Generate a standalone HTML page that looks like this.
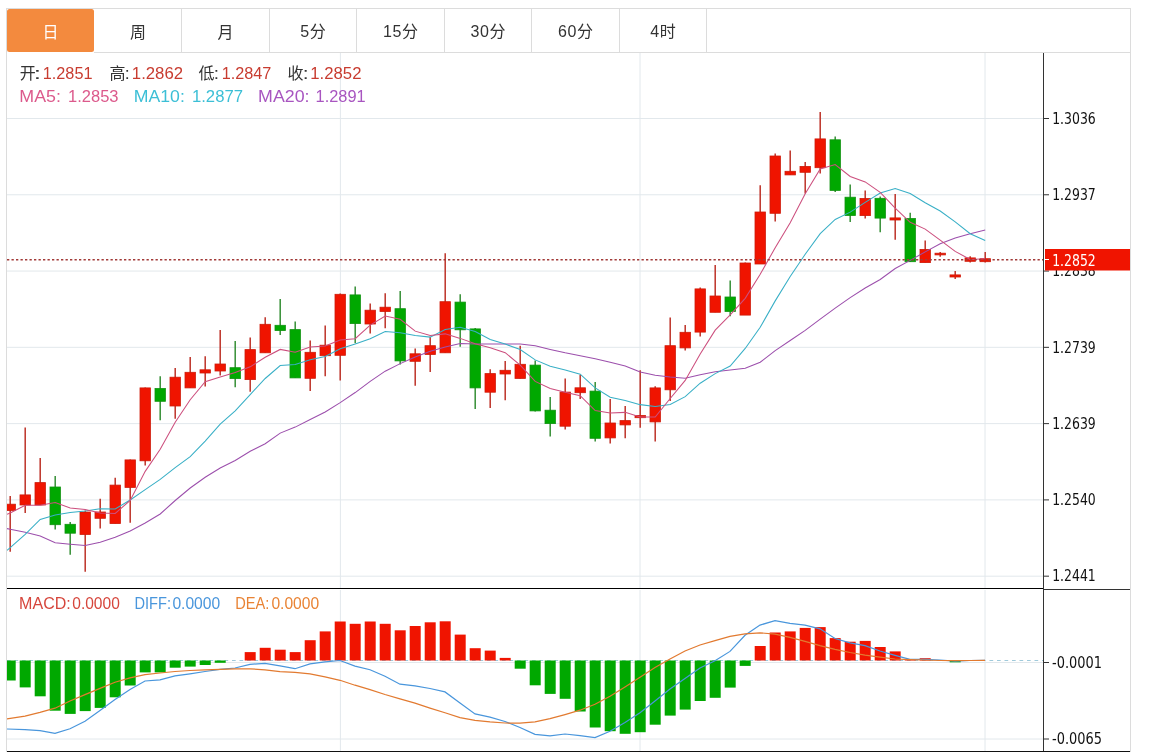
<!DOCTYPE html>
<html><head><meta charset="utf-8"><title>K线图</title>
<style>
html,body{margin:0;padding:0;background:#fff;}
body{width:1150px;height:752px;overflow:hidden;position:relative;}
svg{position:absolute;left:0;top:0;display:block;will-change:transform;}
</style></head>
<body>
<svg width="1150" height="752" viewBox="0 0 1150 752">
<defs>
<clipPath id="cm"><rect x="7" y="53" width="1036" height="535"/></clipPath>
<clipPath id="cd"><rect x="7" y="590" width="1036" height="161"/></clipPath>
</defs>
<rect x="0" y="0" width="1150" height="752" fill="#fff"/>
<line x1="7" y1="118.50" x2="1043" y2="118.50" stroke="#e2e8ec" stroke-width="1"/>
<line x1="7" y1="194.78" x2="1043" y2="194.78" stroke="#e2e8ec" stroke-width="1"/>
<line x1="7" y1="271.06" x2="1043" y2="271.06" stroke="#e2e8ec" stroke-width="1"/>
<line x1="7" y1="347.34" x2="1043" y2="347.34" stroke="#e2e8ec" stroke-width="1"/>
<line x1="7" y1="423.62" x2="1043" y2="423.62" stroke="#e2e8ec" stroke-width="1"/>
<line x1="7" y1="499.90" x2="1043" y2="499.90" stroke="#e2e8ec" stroke-width="1"/>
<line x1="7" y1="576.18" x2="1043" y2="576.18" stroke="#e2e8ec" stroke-width="1"/>
<line x1="340.4" y1="53" x2="340.4" y2="588" stroke="#e2e8ec" stroke-width="1"/>
<line x1="340.4" y1="590" x2="340.4" y2="751" stroke="#e2e8ec" stroke-width="1"/>
<line x1="640.0" y1="53" x2="640.0" y2="588" stroke="#e2e8ec" stroke-width="1"/>
<line x1="640.0" y1="590" x2="640.0" y2="751" stroke="#e2e8ec" stroke-width="1"/>
<line x1="985.0" y1="53" x2="985.0" y2="588" stroke="#e2e8ec" stroke-width="1"/>
<line x1="985.0" y1="590" x2="985.0" y2="751" stroke="#e2e8ec" stroke-width="1"/>
<line x1="7" y1="662.5" x2="1043" y2="662.5" stroke="#e2e8ec" stroke-width="1"/>
<line x1="7" y1="739.0" x2="1043" y2="739.0" stroke="#e2e8ec" stroke-width="1"/>
<g clip-path="url(#cm)">
<line x1="10.2" y1="496" x2="10.2" y2="551.7" stroke="#bd3228" stroke-width="1.5"/>
<rect x="5" y="504.2" width="10.4" height="6.3" fill="#f01400" stroke="#cf1a08" stroke-width="0.8"/>
<line x1="25.2" y1="427.4" x2="25.2" y2="513" stroke="#bd3228" stroke-width="1.5"/>
<rect x="20" y="494.9" width="10.4" height="10.1" fill="#f01400" stroke="#cf1a08" stroke-width="0.8"/>
<line x1="40.2" y1="457.9" x2="40.2" y2="505" stroke="#bd3228" stroke-width="1.5"/>
<rect x="35" y="482.6" width="10.4" height="22.4" fill="#f01400" stroke="#cf1a08" stroke-width="0.8"/>
<line x1="55.2" y1="476" x2="55.2" y2="529.6" stroke="#358f35" stroke-width="1.5"/>
<rect x="50" y="487" width="10.4" height="37.7" fill="#00a800" stroke="#0f930f" stroke-width="0.8"/>
<line x1="70.2" y1="522" x2="70.2" y2="554.7" stroke="#358f35" stroke-width="1.5"/>
<rect x="65" y="524.3" width="10.4" height="8.9" fill="#00a800" stroke="#0f930f" stroke-width="0.8"/>
<line x1="85.2" y1="510.4" x2="85.2" y2="571.7" stroke="#bd3228" stroke-width="1.5"/>
<rect x="80" y="512" width="10.4" height="22.5" fill="#f01400" stroke="#cf1a08" stroke-width="0.8"/>
<line x1="100.2" y1="498.7" x2="100.2" y2="528.5" stroke="#bd3228" stroke-width="1.5"/>
<rect x="95" y="512" width="10.4" height="6.3" fill="#f01400" stroke="#cf1a08" stroke-width="0.8"/>
<line x1="115.2" y1="477.7" x2="115.2" y2="523.6" stroke="#bd3228" stroke-width="1.5"/>
<rect x="110" y="485.1" width="10.4" height="38.5" fill="#f01400" stroke="#cf1a08" stroke-width="0.8"/>
<line x1="130.2" y1="459.5" x2="130.2" y2="522.7" stroke="#bd3228" stroke-width="1.5"/>
<rect x="125" y="459.9" width="10.4" height="27.5" fill="#f01400" stroke="#cf1a08" stroke-width="0.8"/>
<line x1="145.2" y1="387.5" x2="145.2" y2="465.6" stroke="#bd3228" stroke-width="1.5"/>
<rect x="140" y="387.9" width="10.4" height="72.9" fill="#f01400" stroke="#cf1a08" stroke-width="0.8"/>
<line x1="160.2" y1="376.2" x2="160.2" y2="420.2" stroke="#358f35" stroke-width="1.5"/>
<rect x="155" y="388.5" width="10.4" height="12.8" fill="#00a800" stroke="#0f930f" stroke-width="0.8"/>
<line x1="175.2" y1="368.1" x2="175.2" y2="418.7" stroke="#bd3228" stroke-width="1.5"/>
<rect x="170" y="377.2" width="10.4" height="28.8" fill="#f01400" stroke="#cf1a08" stroke-width="0.8"/>
<line x1="190.2" y1="357" x2="190.2" y2="387.9" stroke="#bd3228" stroke-width="1.5"/>
<rect x="185" y="372.3" width="10.4" height="15.6" fill="#f01400" stroke="#cf1a08" stroke-width="0.8"/>
<line x1="205.2" y1="356.3" x2="205.2" y2="386.4" stroke="#bd3228" stroke-width="1.5"/>
<rect x="200" y="369.8" width="10.4" height="3.2" fill="#f01400" stroke="#cf1a08" stroke-width="0.8"/>
<line x1="220.2" y1="330" x2="220.2" y2="375.5" stroke="#bd3228" stroke-width="1.5"/>
<rect x="215" y="364" width="10.4" height="7" fill="#f01400" stroke="#cf1a08" stroke-width="0.8"/>
<line x1="235.2" y1="341" x2="235.2" y2="387.3" stroke="#358f35" stroke-width="1.5"/>
<rect x="230" y="367.7" width="10.4" height="10.9" fill="#00a800" stroke="#0f930f" stroke-width="0.8"/>
<line x1="250.2" y1="337.4" x2="250.2" y2="391.7" stroke="#bd3228" stroke-width="1.5"/>
<rect x="245" y="349.6" width="10.4" height="30" fill="#f01400" stroke="#cf1a08" stroke-width="0.8"/>
<line x1="265.2" y1="317.2" x2="265.2" y2="352.8" stroke="#bd3228" stroke-width="1.5"/>
<rect x="260" y="324.3" width="10.4" height="28.5" fill="#f01400" stroke="#cf1a08" stroke-width="0.8"/>
<line x1="280.2" y1="299.1" x2="280.2" y2="334.9" stroke="#358f35" stroke-width="1.5"/>
<rect x="275" y="325.3" width="10.4" height="5.3" fill="#00a800" stroke="#0f930f" stroke-width="0.8"/>
<line x1="295.2" y1="321.5" x2="295.2" y2="377.9" stroke="#358f35" stroke-width="1.5"/>
<rect x="290" y="329.6" width="10.4" height="48.3" fill="#00a800" stroke="#0f930f" stroke-width="0.8"/>
<line x1="310.2" y1="340.6" x2="310.2" y2="391" stroke="#bd3228" stroke-width="1.5"/>
<rect x="305" y="352.3" width="10.4" height="26" fill="#f01400" stroke="#cf1a08" stroke-width="0.8"/>
<line x1="325.2" y1="325.6" x2="325.2" y2="376.2" stroke="#bd3228" stroke-width="1.5"/>
<rect x="320" y="345.2" width="10.4" height="10.5" fill="#f01400" stroke="#cf1a08" stroke-width="0.8"/>
<line x1="340.2" y1="293.6" x2="340.2" y2="380.4" stroke="#bd3228" stroke-width="1.5"/>
<rect x="335" y="294.3" width="10.4" height="61" fill="#f01400" stroke="#cf1a08" stroke-width="0.8"/>
<line x1="355.2" y1="286.4" x2="355.2" y2="343.2" stroke="#358f35" stroke-width="1.5"/>
<rect x="350" y="294.9" width="10.4" height="28.7" fill="#00a800" stroke="#0f930f" stroke-width="0.8"/>
<line x1="370.2" y1="303.4" x2="370.2" y2="333.6" stroke="#bd3228" stroke-width="1.5"/>
<rect x="365" y="310.2" width="10.4" height="13.8" fill="#f01400" stroke="#cf1a08" stroke-width="0.8"/>
<line x1="385.2" y1="293.2" x2="385.2" y2="328.3" stroke="#bd3228" stroke-width="1.5"/>
<rect x="380" y="307.2" width="10.4" height="4.3" fill="#f01400" stroke="#cf1a08" stroke-width="0.8"/>
<line x1="400.2" y1="291" x2="400.2" y2="364.5" stroke="#358f35" stroke-width="1.5"/>
<rect x="395" y="308.7" width="10.4" height="52.2" fill="#00a800" stroke="#0f930f" stroke-width="0.8"/>
<line x1="415.2" y1="348.5" x2="415.2" y2="385.7" stroke="#bd3228" stroke-width="1.5"/>
<rect x="410" y="353.8" width="10.4" height="7.5" fill="#f01400" stroke="#cf1a08" stroke-width="0.8"/>
<line x1="430.2" y1="336.8" x2="430.2" y2="371.9" stroke="#bd3228" stroke-width="1.5"/>
<rect x="425" y="345.7" width="10.4" height="8.8" fill="#f01400" stroke="#cf1a08" stroke-width="0.8"/>
<line x1="445.2" y1="253.2" x2="445.2" y2="352.8" stroke="#bd3228" stroke-width="1.5"/>
<rect x="440" y="301.7" width="10.4" height="51.1" fill="#f01400" stroke="#cf1a08" stroke-width="0.8"/>
<line x1="460.2" y1="294.3" x2="460.2" y2="346.8" stroke="#358f35" stroke-width="1.5"/>
<rect x="455" y="302.1" width="10.4" height="27.7" fill="#00a800" stroke="#0f930f" stroke-width="0.8"/>
<line x1="475.2" y1="327.9" x2="475.2" y2="409.1" stroke="#358f35" stroke-width="1.5"/>
<rect x="470" y="328.9" width="10.4" height="59" fill="#00a800" stroke="#0f930f" stroke-width="0.8"/>
<line x1="490.2" y1="369.2" x2="490.2" y2="408.1" stroke="#bd3228" stroke-width="1.5"/>
<rect x="485" y="373.6" width="10.4" height="18.6" fill="#f01400" stroke="#cf1a08" stroke-width="0.8"/>
<line x1="505.2" y1="360.9" x2="505.2" y2="400.2" stroke="#bd3228" stroke-width="1.5"/>
<rect x="500" y="370.3" width="10.4" height="3.7" fill="#f01400" stroke="#cf1a08" stroke-width="0.8"/>
<line x1="520.2" y1="345.8" x2="520.2" y2="378.4" stroke="#bd3228" stroke-width="1.5"/>
<rect x="515" y="364.3" width="10.4" height="14.1" fill="#f01400" stroke="#cf1a08" stroke-width="0.8"/>
<line x1="535.2" y1="360.5" x2="535.2" y2="411.5" stroke="#358f35" stroke-width="1.5"/>
<rect x="530" y="365.1" width="10.4" height="45.8" fill="#00a800" stroke="#0f930f" stroke-width="0.8"/>
<line x1="550.2" y1="397" x2="550.2" y2="436.4" stroke="#358f35" stroke-width="1.5"/>
<rect x="545" y="410.2" width="10.4" height="13.4" fill="#00a800" stroke="#0f930f" stroke-width="0.8"/>
<line x1="565.2" y1="378.5" x2="565.2" y2="429.6" stroke="#bd3228" stroke-width="1.5"/>
<rect x="560" y="392.1" width="10.4" height="34.1" fill="#f01400" stroke="#cf1a08" stroke-width="0.8"/>
<line x1="580.2" y1="374.7" x2="580.2" y2="399.1" stroke="#bd3228" stroke-width="1.5"/>
<rect x="575" y="387.8" width="10.4" height="4.9" fill="#f01400" stroke="#cf1a08" stroke-width="0.8"/>
<line x1="595.2" y1="381.9" x2="595.2" y2="441.5" stroke="#358f35" stroke-width="1.5"/>
<rect x="590" y="391.1" width="10.4" height="47.2" fill="#00a800" stroke="#0f930f" stroke-width="0.8"/>
<line x1="610.2" y1="398.9" x2="610.2" y2="443.6" stroke="#bd3228" stroke-width="1.5"/>
<rect x="605" y="423" width="10.4" height="14.9" fill="#f01400" stroke="#cf1a08" stroke-width="0.8"/>
<line x1="625.2" y1="406" x2="625.2" y2="438.3" stroke="#bd3228" stroke-width="1.5"/>
<rect x="620" y="420.6" width="10.4" height="4.3" fill="#f01400" stroke="#cf1a08" stroke-width="0.8"/>
<line x1="640.2" y1="370.2" x2="640.2" y2="427.7" stroke="#bd3228" stroke-width="1.5"/>
<rect x="635" y="415.5" width="10.4" height="2.2" fill="#f01400" stroke="#cf1a08" stroke-width="0.8"/>
<line x1="655.2" y1="386.2" x2="655.2" y2="441.5" stroke="#bd3228" stroke-width="1.5"/>
<rect x="650" y="387.9" width="10.4" height="34" fill="#f01400" stroke="#cf1a08" stroke-width="0.8"/>
<line x1="670.2" y1="317.4" x2="670.2" y2="401" stroke="#bd3228" stroke-width="1.5"/>
<rect x="665" y="345.7" width="10.4" height="44.1" fill="#f01400" stroke="#cf1a08" stroke-width="0.8"/>
<line x1="685.2" y1="325.1" x2="685.2" y2="350.6" stroke="#bd3228" stroke-width="1.5"/>
<rect x="680" y="332.3" width="10.4" height="15.6" fill="#f01400" stroke="#cf1a08" stroke-width="0.8"/>
<line x1="700.2" y1="287.4" x2="700.2" y2="336.4" stroke="#bd3228" stroke-width="1.5"/>
<rect x="695" y="288.9" width="10.4" height="43.2" fill="#f01400" stroke="#cf1a08" stroke-width="0.8"/>
<line x1="715.2" y1="265.1" x2="715.2" y2="312.3" stroke="#bd3228" stroke-width="1.5"/>
<rect x="710" y="296" width="10.4" height="16.3" fill="#f01400" stroke="#cf1a08" stroke-width="0.8"/>
<line x1="730.2" y1="280.6" x2="730.2" y2="316.2" stroke="#358f35" stroke-width="1.5"/>
<rect x="725" y="297" width="10.4" height="14.5" fill="#00a800" stroke="#0f930f" stroke-width="0.8"/>
<line x1="745.2" y1="262.6" x2="745.2" y2="315.1" stroke="#bd3228" stroke-width="1.5"/>
<rect x="740" y="263" width="10.4" height="52.1" fill="#f01400" stroke="#cf1a08" stroke-width="0.8"/>
<line x1="760.2" y1="185.2" x2="760.2" y2="264" stroke="#bd3228" stroke-width="1.5"/>
<rect x="755" y="212" width="10.4" height="52" fill="#f01400" stroke="#cf1a08" stroke-width="0.8"/>
<line x1="775.2" y1="153.6" x2="775.2" y2="221.4" stroke="#bd3228" stroke-width="1.5"/>
<rect x="770" y="156" width="10.4" height="57.3" fill="#f01400" stroke="#cf1a08" stroke-width="0.8"/>
<line x1="790.2" y1="150.4" x2="790.2" y2="174.9" stroke="#bd3228" stroke-width="1.5"/>
<rect x="785" y="171.3" width="10.4" height="3.6" fill="#f01400" stroke="#cf1a08" stroke-width="0.8"/>
<line x1="805.2" y1="162.1" x2="805.2" y2="193.6" stroke="#bd3228" stroke-width="1.5"/>
<rect x="800" y="166.4" width="10.4" height="5.9" fill="#f01400" stroke="#cf1a08" stroke-width="0.8"/>
<line x1="820.2" y1="112.1" x2="820.2" y2="173.4" stroke="#bd3228" stroke-width="1.5"/>
<rect x="815" y="138.9" width="10.4" height="28.8" fill="#f01400" stroke="#cf1a08" stroke-width="0.8"/>
<line x1="835.2" y1="136.6" x2="835.2" y2="191.9" stroke="#358f35" stroke-width="1.5"/>
<rect x="830" y="139.8" width="10.4" height="50.6" fill="#00a800" stroke="#0f930f" stroke-width="0.8"/>
<line x1="850.2" y1="184.5" x2="850.2" y2="221.9" stroke="#358f35" stroke-width="1.5"/>
<rect x="845" y="197.2" width="10.4" height="18.3" fill="#00a800" stroke="#0f930f" stroke-width="0.8"/>
<line x1="865.2" y1="190.4" x2="865.2" y2="218.6" stroke="#bd3228" stroke-width="1.5"/>
<rect x="860" y="198.5" width="10.4" height="17.1" fill="#f01400" stroke="#cf1a08" stroke-width="0.8"/>
<line x1="880.2" y1="196.6" x2="880.2" y2="232.3" stroke="#358f35" stroke-width="1.5"/>
<rect x="875" y="198.3" width="10.4" height="19.8" fill="#00a800" stroke="#0f930f" stroke-width="0.8"/>
<line x1="895.2" y1="194" x2="895.2" y2="239.8" stroke="#bd3228" stroke-width="1.5"/>
<rect x="890" y="217.9" width="10.4" height="2.1" fill="#f01400" stroke="#cf1a08" stroke-width="0.8"/>
<line x1="910.2" y1="212.8" x2="910.2" y2="261.7" stroke="#358f35" stroke-width="1.5"/>
<rect x="905" y="218.5" width="10.4" height="43.2" fill="#00a800" stroke="#0f930f" stroke-width="0.8"/>
<line x1="925.2" y1="240.4" x2="925.2" y2="262.6" stroke="#bd3228" stroke-width="1.5"/>
<rect x="920" y="249.4" width="10.4" height="13.2" fill="#f01400" stroke="#cf1a08" stroke-width="0.8"/>
<line x1="940.2" y1="251.9" x2="940.2" y2="256.8" stroke="#bd3228" stroke-width="1.5"/>
<rect x="935" y="253.2" width="10.4" height="1.7" fill="#f01400" stroke="#cf1a08" stroke-width="0.8"/>
<line x1="955.2" y1="271.1" x2="955.2" y2="279.1" stroke="#bd3228" stroke-width="1.5"/>
<rect x="950" y="274.9" width="10.4" height="2.1" fill="#f01400" stroke="#cf1a08" stroke-width="0.8"/>
<line x1="970.2" y1="256.2" x2="970.2" y2="262.6" stroke="#bd3228" stroke-width="1.5"/>
<rect x="965" y="257.9" width="10.4" height="3.4" fill="#f01400" stroke="#cf1a08" stroke-width="0.8"/>
<line x1="985.2" y1="251.9" x2="985.2" y2="262.6" stroke="#bd3228" stroke-width="1.5"/>
<rect x="980" y="258.7" width="10.4" height="3" fill="#f01400" stroke="#cf1a08" stroke-width="0.8"/>
<polyline fill="none" stroke="#9c4fac" stroke-width="1.05" points="7,528.6 10.2,529.3 25.2,532.2 40.2,536.1 55.2,542.7 70.2,544.2 85.2,545.4 100.2,542.2 115.2,537.3 130.2,531 145.2,523 160.2,514 175.2,500.5 190.2,488 205.2,477.3 220.2,468 235.2,460.5 250.2,451.2 265.2,443.8 280.2,433.1 295.2,427.11 310.2,419.51 325.2,412.02 340.2,402.61 355.2,392.56 370.2,381.41 385.2,371.17 400.2,363.61 415.2,357.04 430.2,351.33 445.2,347.02 460.2,343.45 475.2,343.99 490.2,344.05 505.2,344.07 520.2,344.09 535.2,345.71 550.2,349.41 565.2,352.79 580.2,355.66 595.2,358.68 610.2,362.21 625.2,365.98 640.2,372.04 655.2,375.25 670.2,377.03 685.2,378.28 700.2,374.69 715.2,371.79 730.2,370.08 745.2,368.15 760.2,362.26 775.2,350.67 790.2,340.55 805.2,330.36 820.2,319.08 835.2,308.06 850.2,297.66 865.2,287.98 880.2,279.49 895.2,268.47 910.2,260.41 925.2,251.84 940.2,243.73 955.2,238.08 970.2,233.69 985.2,230.01"/>
<polyline fill="none" stroke="#38afc6" stroke-width="1.05" points="7,550.4 10.2,547.7 25.2,534.3 40.2,519.4 55.2,514.9 70.2,512.4 85.2,510.9 100.2,508.7 115.2,508.9 130.2,500 145.2,489.65 160.2,479.36 175.2,467.59 190.2,456.56 205.2,441.07 220.2,424.15 235.2,410.81 250.2,394.57 265.2,378.49 280.2,365.56 295.2,364.56 310.2,359.66 325.2,356.46 340.2,348.66 355.2,344.04 370.2,338.66 385.2,331.52 400.2,332.65 415.2,335.6 430.2,337.11 445.2,329.49 460.2,327.24 475.2,331.51 490.2,339.44 505.2,344.11 520.2,349.52 535.2,359.89 550.2,366.16 565.2,369.99 580.2,374.2 595.2,387.86 610.2,397.18 625.2,400.45 640.2,404.64 655.2,406.4 670.2,404.54 685.2,396.68 700.2,383.21 715.2,373.6 730.2,365.97 745.2,348.44 760.2,327.34 775.2,300.88 790.2,276.46 805.2,254.31 820.2,233.63 835.2,219.44 850.2,212.1 865.2,202.35 880.2,193.01 895.2,188.5 910.2,193.47 925.2,202.81 940.2,211 955.2,221.85 970.2,233.75 985.2,240.58"/>
<polyline fill="none" stroke="#cc4f7e" stroke-width="1.05" points="7,514.3 10.2,513 25.2,505.3 40.2,505.3 55.2,502.6 70.2,507.92 85.2,509.48 100.2,512.9 115.2,513.4 130.2,500.44 145.2,471.38 160.2,449.24 175.2,422.28 190.2,399.72 205.2,381.7 220.2,376.92 235.2,372.38 250.2,366.86 265.2,357.26 280.2,349.42 295.2,352.2 310.2,346.94 325.2,346.06 340.2,340.06 355.2,338.66 370.2,325.12 385.2,316.1 400.2,319.24 415.2,331.14 430.2,335.56 445.2,333.86 460.2,338.38 475.2,343.78 490.2,347.74 505.2,352.66 520.2,365.18 535.2,381.4 550.2,388.54 565.2,392.24 580.2,395.74 595.2,410.54 610.2,412.96 625.2,412.36 640.2,417.04 655.2,417.06 670.2,398.54 685.2,380.4 700.2,354.06 715.2,330.16 730.2,314.88 745.2,298.34 760.2,274.28 775.2,247.7 790.2,222.76 805.2,193.74 820.2,168.92 835.2,164.6 850.2,176.5 865.2,181.94 880.2,192.28 895.2,208.08 910.2,222.34 925.2,229.12 940.2,240.06 955.2,251.42 970.2,259.42 985.2,258.82"/>
</g>
<line x1="7" y1="259.8" x2="1043" y2="259.8" stroke="#a23a38" stroke-width="1.6" stroke-dasharray="2.3 2.2"/>
<g clip-path="url(#cd)">
<line x1="7" y1="660.5" x2="1043" y2="660.5" stroke="#a0cadb" stroke-width="1" stroke-dasharray="3.7 3.8"/>
<rect x="4.7" y="660.5" width="11" height="20" fill="#00a800"/>
<rect x="19.7" y="660.5" width="11" height="26.9" fill="#00a800"/>
<rect x="34.7" y="660.5" width="11" height="35.8" fill="#00a800"/>
<rect x="49.7" y="660.5" width="11" height="50.2" fill="#00a800"/>
<rect x="64.7" y="660.5" width="11" height="53.4" fill="#00a800"/>
<rect x="79.7" y="660.5" width="11" height="50.6" fill="#00a800"/>
<rect x="94.7" y="660.5" width="11" height="47.4" fill="#00a800"/>
<rect x="109.7" y="660.5" width="11" height="36.8" fill="#00a800"/>
<rect x="124.7" y="660.5" width="11" height="25" fill="#00a800"/>
<rect x="139.7" y="660.5" width="11" height="11.9" fill="#00a800"/>
<rect x="154.7" y="660.5" width="11" height="11.9" fill="#00a800"/>
<rect x="169.7" y="660.5" width="11" height="7.2" fill="#00a800"/>
<rect x="184.7" y="660.5" width="11" height="6.1" fill="#00a800"/>
<rect x="199.7" y="660.5" width="11" height="4.5" fill="#00a800"/>
<rect x="214.7" y="660.5" width="11" height="2.3" fill="#00a800"/>
<rect x="244.7" y="652.1" width="11" height="8.4" fill="#f01400"/>
<rect x="259.7" y="647.8" width="11" height="12.7" fill="#f01400"/>
<rect x="274.7" y="649.7" width="11" height="10.8" fill="#f01400"/>
<rect x="289.7" y="652.1" width="11" height="8.4" fill="#f01400"/>
<rect x="304.7" y="640.2" width="11" height="20.3" fill="#f01400"/>
<rect x="319.7" y="631.4" width="11" height="29.1" fill="#f01400"/>
<rect x="334.7" y="621.5" width="11" height="39" fill="#f01400"/>
<rect x="349.7" y="623.8" width="11" height="36.7" fill="#f01400"/>
<rect x="364.7" y="621.5" width="11" height="39" fill="#f01400"/>
<rect x="379.7" y="623.8" width="11" height="36.7" fill="#f01400"/>
<rect x="394.7" y="630.3" width="11" height="30.2" fill="#f01400"/>
<rect x="409.7" y="626" width="11" height="34.5" fill="#f01400"/>
<rect x="424.7" y="622.3" width="11" height="38.2" fill="#f01400"/>
<rect x="439.7" y="621.3" width="11" height="39.2" fill="#f01400"/>
<rect x="454.7" y="634.6" width="11" height="25.9" fill="#f01400"/>
<rect x="469.7" y="648.2" width="11" height="12.3" fill="#f01400"/>
<rect x="484.7" y="650.6" width="11" height="9.9" fill="#f01400"/>
<rect x="499.7" y="657.9" width="11" height="2.6" fill="#f01400"/>
<rect x="514.7" y="660.5" width="11" height="8.2" fill="#00a800"/>
<rect x="529.7" y="660.5" width="11" height="24.8" fill="#00a800"/>
<rect x="544.7" y="660.5" width="11" height="33.4" fill="#00a800"/>
<rect x="559.7" y="660.5" width="11" height="38.3" fill="#00a800"/>
<rect x="574.7" y="660.5" width="11" height="51" fill="#00a800"/>
<rect x="589.7" y="660.5" width="11" height="67" fill="#00a800"/>
<rect x="604.7" y="660.5" width="11" height="70.7" fill="#00a800"/>
<rect x="619.7" y="660.5" width="11" height="73.3" fill="#00a800"/>
<rect x="634.7" y="660.5" width="11" height="71.7" fill="#00a800"/>
<rect x="649.7" y="660.5" width="11" height="64.2" fill="#00a800"/>
<rect x="664.7" y="660.5" width="11" height="55.1" fill="#00a800"/>
<rect x="679.7" y="660.5" width="11" height="49.1" fill="#00a800"/>
<rect x="694.7" y="660.5" width="11" height="40.5" fill="#00a800"/>
<rect x="709.7" y="660.5" width="11" height="37.3" fill="#00a800"/>
<rect x="724.7" y="660.5" width="11" height="27.1" fill="#00a800"/>
<rect x="739.7" y="660.5" width="11" height="5.4" fill="#00a800"/>
<rect x="754.7" y="646" width="11" height="14.5" fill="#f01400"/>
<rect x="769.7" y="632.5" width="11" height="28" fill="#f01400"/>
<rect x="784.7" y="631.4" width="11" height="29.1" fill="#f01400"/>
<rect x="799.7" y="627.9" width="11" height="32.6" fill="#f01400"/>
<rect x="814.7" y="627.1" width="11" height="33.4" fill="#f01400"/>
<rect x="829.7" y="638.1" width="11" height="22.4" fill="#f01400"/>
<rect x="844.7" y="641.7" width="11" height="18.8" fill="#f01400"/>
<rect x="859.7" y="640.9" width="11" height="19.6" fill="#f01400"/>
<rect x="874.7" y="647" width="11" height="13.5" fill="#f01400"/>
<rect x="889.7" y="651.4" width="11" height="9.1" fill="#f01400"/>
<rect x="904.7" y="659.6" width="11" height="0.9" fill="#f01400"/>
<rect x="919.7" y="658.2" width="11" height="2.3" fill="#f01400"/>
<rect x="949.7" y="660.5" width="11" height="1.8" fill="#00a800"/>
<polyline fill="none" stroke="#4996dc" stroke-width="1.2" points="7,729 25,729.7 40,730.7 55,733.3 70,728.8 85,721.3 100,710.5 115,699.5 130,689.5 145,681 160,679.9 175,675.8 190,673.8 205,671.5 220,669.3 235,668 250,664.4 265,663.3 280,665.9 295,668.7 310,663.9 325,661.8 340,660.5 355,666.1 370,669.7 385,676.2 400,684.2 415,685.9 430,688.5 445,691.9 460,703.1 475,713.9 490,717.2 505,721.5 520,727.5 535,734.4 550,735.9 565,734 580,735.6 595,737.6 610,731.2 625,722.5 640,712.8 655,701 670,689.1 685,678.4 700,668 715,660.7 730,651.4 745,635.3 760,625.1 775,620.6 790,623.4 805,625.1 820,628.8 835,638.5 850,642.8 865,645.6 880,651 895,655.3 910,659.4 925,659.4 940,660 955,661.1 970,660.5 985,660.3"/>
<polyline fill="none" stroke="#e27a30" stroke-width="1.2" points="7,718.9 25,716.1 40,712.4 55,708.2 70,701 85,694.6 100,688.4 115,682.2 130,677.9 145,674.7 160,673 175,671.5 190,670.5 205,669.8 220,669.3 235,668.8 250,668.8 265,669.8 280,671.6 295,672.4 310,673.9 325,676.8 340,680.3 355,685.2 370,689.6 385,694.5 400,698.8 415,703.1 430,708.1 445,712.8 460,717.6 475,720.4 490,721.9 505,723 520,723.2 535,721.9 550,718.7 565,714.6 580,710.2 595,704.2 610,696.3 625,687 640,677.3 655,667.6 670,659 685,651 700,645 715,640.6 730,636.3 745,633.8 760,632.8 775,634.2 790,637.4 805,641.3 820,645.6 835,649.3 850,652.5 865,655.1 880,657.2 895,659 910,659.6 925,660 940,660.5 955,660.7 970,660.5 985,660.3"/>
</g>
<line x1="6" y1="8.5" x2="1130" y2="8.5" stroke="#dcdcdc"/>
<line x1="94" y1="52.5" x2="1131" y2="52.5" stroke="#dcdcdc"/>
<line x1="6.5" y1="8" x2="6.5" y2="752" stroke="#dcdcdc"/>
<line x1="1130.5" y1="8" x2="1130.5" y2="752" stroke="#dcdcdc"/>
<line x1="1043.5" y1="53" x2="1043.5" y2="752" stroke="#333"/>
<line x1="7" y1="588.5" x2="1043" y2="588.5" stroke="#000"/>
<line x1="1043" y1="589.5" x2="1130" y2="589.5" stroke="#333"/>
<line x1="7" y1="751.5" x2="1130" y2="751.5" stroke="#111"/>
<line x1="1044" y1="118.50" x2="1049" y2="118.50" stroke="#333"/>
<text x="1052.2" y="123.80" font-family="DejaVu Sans Condensed, DejaVu Sans, sans-serif" font-stretch="condensed" font-size="15" fill="#111" textLength="43.6" lengthAdjust="spacingAndGlyphs">1.3036</text>
<line x1="1044" y1="194.78" x2="1049" y2="194.78" stroke="#333"/>
<text x="1052.2" y="200.08" font-family="DejaVu Sans Condensed, DejaVu Sans, sans-serif" font-stretch="condensed" font-size="15" fill="#111" textLength="43.6" lengthAdjust="spacingAndGlyphs">1.2937</text>
<line x1="1044" y1="271.06" x2="1049" y2="271.06" stroke="#333"/>
<text x="1052.2" y="276.36" font-family="DejaVu Sans Condensed, DejaVu Sans, sans-serif" font-stretch="condensed" font-size="15" fill="#111" textLength="43.6" lengthAdjust="spacingAndGlyphs">1.2838</text>
<line x1="1044" y1="347.34" x2="1049" y2="347.34" stroke="#333"/>
<text x="1052.2" y="352.64" font-family="DejaVu Sans Condensed, DejaVu Sans, sans-serif" font-stretch="condensed" font-size="15" fill="#111" textLength="43.6" lengthAdjust="spacingAndGlyphs">1.2739</text>
<line x1="1044" y1="423.62" x2="1049" y2="423.62" stroke="#333"/>
<text x="1052.2" y="428.92" font-family="DejaVu Sans Condensed, DejaVu Sans, sans-serif" font-stretch="condensed" font-size="15" fill="#111" textLength="43.6" lengthAdjust="spacingAndGlyphs">1.2639</text>
<line x1="1044" y1="499.90" x2="1049" y2="499.90" stroke="#333"/>
<text x="1052.2" y="505.20" font-family="DejaVu Sans Condensed, DejaVu Sans, sans-serif" font-stretch="condensed" font-size="15" fill="#111" textLength="43.6" lengthAdjust="spacingAndGlyphs">1.2540</text>
<line x1="1044" y1="576.18" x2="1049" y2="576.18" stroke="#333"/>
<text x="1052.2" y="581.48" font-family="DejaVu Sans Condensed, DejaVu Sans, sans-serif" font-stretch="condensed" font-size="15" fill="#111" textLength="43.6" lengthAdjust="spacingAndGlyphs">1.2441</text>
<rect x="1045" y="249" width="85" height="21.5" fill="#f01400"/>
<line x1="1044" y1="259.5" x2="1049" y2="259.5" stroke="#fff"/>
<text x="1052.2" y="265.5" font-family="DejaVu Sans Condensed, DejaVu Sans, sans-serif" font-stretch="condensed" font-size="15" fill="#fff" textLength="43.6" lengthAdjust="spacingAndGlyphs">1.2852</text>
<line x1="1044" y1="662.5" x2="1049" y2="662.5" stroke="#333"/>
<text x="1052" y="667.8" font-family="DejaVu Sans Condensed, DejaVu Sans, sans-serif" font-stretch="condensed" font-size="15" fill="#111" textLength="50" lengthAdjust="spacingAndGlyphs">-0.0001</text>
<line x1="1044" y1="739.0" x2="1049" y2="739.0" stroke="#333"/>
<text x="1052" y="744.3" font-family="DejaVu Sans Condensed, DejaVu Sans, sans-serif" font-stretch="condensed" font-size="15" fill="#111" textLength="50" lengthAdjust="spacingAndGlyphs">-0.0065</text>
<rect x="7" y="9" width="87" height="43" rx="2.5" fill="#f38a3e"/>
<text x="50.75" y="37.5" font-family="Liberation Sans, Noto Sans CJK SC, sans-serif" font-size="16" letter-spacing="0.5" fill="#fff" text-anchor="middle">日</text>
<line x1="181.5" y1="9" x2="181.5" y2="52" stroke="#dcdcdc"/>
<text x="138.25" y="37.5" font-family="Liberation Sans, Noto Sans CJK SC, sans-serif" font-size="16" letter-spacing="0.5" fill="#333" text-anchor="middle">周</text>
<line x1="269.5" y1="9" x2="269.5" y2="52" stroke="#dcdcdc"/>
<text x="225.75" y="37.5" font-family="Liberation Sans, Noto Sans CJK SC, sans-serif" font-size="16" letter-spacing="0.5" fill="#333" text-anchor="middle">月</text>
<line x1="356.5" y1="9" x2="356.5" y2="52" stroke="#dcdcdc"/>
<text x="313.25" y="36.7" font-family="Liberation Sans, Noto Sans CJK SC, sans-serif" font-size="16" letter-spacing="0.5" fill="#333" text-anchor="middle">5分</text>
<line x1="444.5" y1="9" x2="444.5" y2="52" stroke="#dcdcdc"/>
<text x="400.75" y="36.7" font-family="Liberation Sans, Noto Sans CJK SC, sans-serif" font-size="16" letter-spacing="0.5" fill="#333" text-anchor="middle">15分</text>
<line x1="531.5" y1="9" x2="531.5" y2="52" stroke="#dcdcdc"/>
<text x="488.25" y="36.7" font-family="Liberation Sans, Noto Sans CJK SC, sans-serif" font-size="16" letter-spacing="0.5" fill="#333" text-anchor="middle">30分</text>
<line x1="619.5" y1="9" x2="619.5" y2="52" stroke="#dcdcdc"/>
<text x="575.75" y="36.7" font-family="Liberation Sans, Noto Sans CJK SC, sans-serif" font-size="16" letter-spacing="0.5" fill="#333" text-anchor="middle">60分</text>
<line x1="706.5" y1="9" x2="706.5" y2="52" stroke="#dcdcdc"/>
<text x="663.25" y="36.7" font-family="Liberation Sans, Noto Sans CJK SC, sans-serif" font-size="16" letter-spacing="0.5" fill="#333" text-anchor="middle">4时</text>
<text x="19.7" y="79" font-family="Liberation Sans, Noto Sans CJK SC, sans-serif" font-size="16" fill="#333">开</text>
<text x="33.8" y="79" font-family="Liberation Sans, sans-serif" font-size="16" fill="#333" textLength="7.29" lengthAdjust="spacingAndGlyphs">:</text>
<text x="42.76" y="79" font-family="Liberation Sans, sans-serif" font-size="16" fill="#c83c30" textLength="49.73" lengthAdjust="spacingAndGlyphs">1.2851</text>
<text x="109.5" y="79" font-family="Liberation Sans, Noto Sans CJK SC, sans-serif" font-size="16" fill="#333">高</text>
<text x="124.87" y="79" font-family="Liberation Sans, sans-serif" font-size="16" fill="#333" textLength="4.96" lengthAdjust="spacingAndGlyphs">:</text>
<text x="131.82" y="79" font-family="Liberation Sans, sans-serif" font-size="16" fill="#c83c30" textLength="51.22" lengthAdjust="spacingAndGlyphs">1.2862</text>
<text x="198.4" y="79" font-family="Liberation Sans, Noto Sans CJK SC, sans-serif" font-size="16" fill="#333">低</text>
<text x="213.67" y="79" font-family="Liberation Sans, sans-serif" font-size="16" fill="#333" textLength="5.25" lengthAdjust="spacingAndGlyphs">:</text>
<text x="221.66" y="79" font-family="Liberation Sans, sans-serif" font-size="16" fill="#c83c30" textLength="49.76" lengthAdjust="spacingAndGlyphs">1.2847</text>
<text x="287.6" y="79" font-family="Liberation Sans, Noto Sans CJK SC, sans-serif" font-size="16" fill="#333">收</text>
<text x="302.68" y="79" font-family="Liberation Sans, sans-serif" font-size="16" fill="#333" textLength="5.84" lengthAdjust="spacingAndGlyphs">:</text>
<text x="310.33" y="79" font-family="Liberation Sans, sans-serif" font-size="16" fill="#c83c30" textLength="51.11" lengthAdjust="spacingAndGlyphs">1.2852</text>
<text x="19.34" y="102.1" font-family="Liberation Sans, sans-serif" font-size="16" fill="#dc5a8c" textLength="41.59" lengthAdjust="spacingAndGlyphs">MA5:</text>
<text x="68.04" y="102.1" font-family="Liberation Sans, sans-serif" font-size="16" fill="#dc5a8c" textLength="50.48" lengthAdjust="spacingAndGlyphs">1.2853</text>
<text x="133.75" y="102.1" font-family="Liberation Sans, sans-serif" font-size="16" fill="#3cbfd6" textLength="51.06" lengthAdjust="spacingAndGlyphs">MA10:</text>
<text x="191.93" y="102.1" font-family="Liberation Sans, sans-serif" font-size="16" fill="#3cbfd6" textLength="51.11" lengthAdjust="spacingAndGlyphs">1.2877</text>
<text x="258.14" y="102.1" font-family="Liberation Sans, sans-serif" font-size="16" fill="#a855c0" textLength="51.38" lengthAdjust="spacingAndGlyphs">MA20:</text>
<text x="315.55" y="102.1" font-family="Liberation Sans, sans-serif" font-size="16" fill="#a855c0" textLength="50.05" lengthAdjust="spacingAndGlyphs">1.2891</text>
<text x="19.08" y="608.5" font-family="Liberation Sans, sans-serif" font-size="16" fill="#d6463c" textLength="51.68" lengthAdjust="spacingAndGlyphs">MACD:</text>
<text x="72.29" y="608.5" font-family="Liberation Sans, sans-serif" font-size="16" fill="#d6463c" textLength="47.51" lengthAdjust="spacingAndGlyphs">0.0000</text>
<text x="134.5" y="608.5" font-family="Liberation Sans, sans-serif" font-size="16" fill="#4996dc" textLength="36.53" lengthAdjust="spacingAndGlyphs">DIFF:</text>
<text x="172.39" y="608.5" font-family="Liberation Sans, sans-serif" font-size="16" fill="#4996dc" textLength="47.82" lengthAdjust="spacingAndGlyphs">0.0000</text>
<text x="235.3" y="608.5" font-family="Liberation Sans, sans-serif" font-size="16" fill="#e98334" textLength="34.14" lengthAdjust="spacingAndGlyphs">DEA:</text>
<text x="271.39" y="608.5" font-family="Liberation Sans, sans-serif" font-size="16" fill="#e98334" textLength="47.72" lengthAdjust="spacingAndGlyphs">0.0000</text>
</svg>
</body></html>
